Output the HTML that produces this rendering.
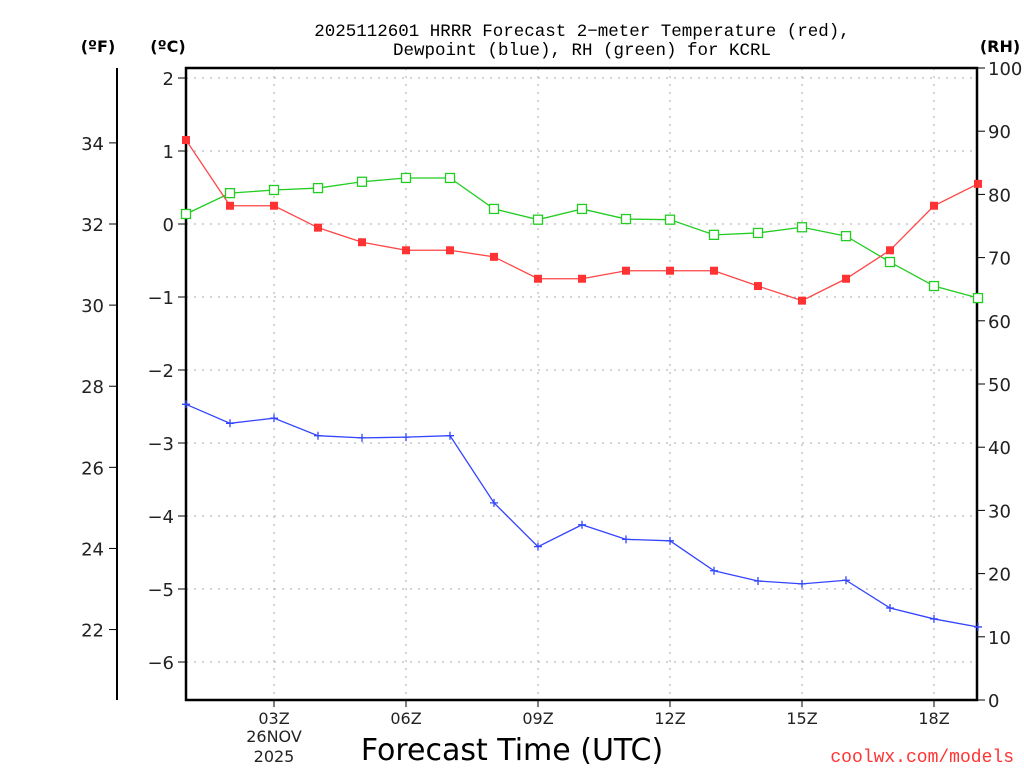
<!DOCTYPE html>
<html><head><meta charset="utf-8"><style>
body{margin:0;background:#fff;}
svg{display:block;font-family:"DejaVu Sans","Liberation Sans",sans-serif;}
</style></head><body>
<svg id="chart" width="1024" height="768" xmlns="http://www.w3.org/2000/svg">
<text x="582" y="36" text-anchor="middle" font-size="17.5" font-family="Liberation Mono, monospace">2025112601 HRRR Forecast 2−meter Temperature (red),</text>
<text x="582" y="55" text-anchor="middle" font-size="17.5" font-family="Liberation Mono, monospace">Dewpoint (blue), RH (green) for KCRL</text>
<text x="98" y="52" text-anchor="middle" font-size="16" font-weight="bold">(ºF)</text>
<text x="168" y="52" text-anchor="middle" font-size="16" font-weight="bold">(ºC)</text>
<text x="1000" y="52" text-anchor="middle" font-size="16" font-weight="bold">(RH)</text>
<g id="grid"></g>
<g id="axes"></g>
<g id="series"></g>
<text x="512" y="760" text-anchor="middle" font-size="30">Forecast Time (UTC)</text>
<text x="1014" y="762" text-anchor="end" font-size="18" font-family="Liberation Mono, monospace" fill="#ff3333">coolwx.com/models</text>
</svg>
<script>
const hours=[1,2,3,4,5,6,7,8,9,10,11,12,13,14,15,16,17,18,19];
const tempC=[1.15,0.25,0.25,-0.05,-0.25,-0.36,-0.36,-0.45,-0.75,-0.75,-0.64,-0.64,-0.64,-0.85,-1.05,-0.75,-0.36,0.25,0.55];
const dewC=[-2.47,-2.73,-2.66,-2.9,-2.93,-2.92,-2.9,-3.82,-4.42,-4.12,-4.32,-4.34,-4.75,-4.89,-4.93,-4.88,-5.26,-5.41,-5.52];
const rh=[76.9,80.2,80.7,81,82,82.6,82.6,77.7,76,77.7,76.1,76,73.6,73.9,74.8,73.4,69.3,65.5,63.6];
const cTicks=[2,1,0,-1,-2,-3,-4,-5,-6];
const fTicks=[34,32,30,28,26,24,22];
const rhTicks=[100,90,80,70,60,50,40,30,20,10,0];
const xTicks=[3,6,9,12,15,18];
const xTickLabels=["03Z","06Z","09Z","12Z","15Z","18Z"];
const L=186,R=977,T=68,B=700;
const NS="http://www.w3.org/2000/svg";
const X=h=>L+(h-1)*44;
const YC=c=>224-c*73;
const YF=f=>YC((f-32)*5/9);
const YR=r=>B-r*(B-T)/100;
function mk(p,tag,a){const e=document.createElementNS(NS,tag);for(const k in a)e.setAttribute(k,a[k]);p.appendChild(e);return e;}
const grid=document.getElementById('grid'),axes=document.getElementById('axes'),ser=document.getElementById('series');
cTicks.forEach(c=>{
 const g=mk(grid,'line',{x1:L,x2:R,y1:YC(c),y2:YC(c),stroke:'#aaa','stroke-dasharray':'2,6'});
 
 
 mk(axes,'line',{x1:L-8,x2:L,y1:YC(c),y2:YC(c),stroke:'#000'});
 const t=mk(axes,'text',{x:L-12,y:YC(c)+7,'text-anchor':'end','font-size':'18',fill:'#222'});
 t.textContent=c<0?'−'+(-c):String(c);
 
 
});
xTicks.forEach((h,i)=>{
 const g=mk(grid,'line',{x1:X(h),x2:X(h),y1:T,y2:B,stroke:'#aaa','stroke-dasharray':'2,6'});
 
 
 mk(axes,'line',{x1:X(h),x2:X(h),y1:B,y2:B+7,stroke:'#000'});
 const t=mk(axes,'text',{x:X(h),y:B+24,'text-anchor':'middle','font-size':'16',fill:'#222'});
 t.textContent=xTickLabels[i];
 
 
});
[["26NOV",742],["2025",762]].forEach(([s,y])=>{
 const t=mk(axes,'text',{x:X(3),y:y,'text-anchor':'middle','font-size':'16',fill:'#222'});
 t.textContent=s;
 
 
});
fTicks.forEach(f=>{
 mk(axes,'line',{x1:109,x2:117,y1:YF(f),y2:YF(f),stroke:'#000'});
 const t=mk(axes,'text',{x:104,y:YF(f)+7,'text-anchor':'end','font-size':'18',fill:'#222'});
 t.textContent=String(f);
 
 
});
rhTicks.forEach(r=>{
 mk(axes,'line',{x1:R,x2:R+8,y1:YR(r),y2:YR(r),stroke:'#000'});
 const t=mk(axes,'text',{x:R+11,y:YR(r)+7,'text-anchor':'start','font-size':'18',fill:'#222'});
 t.textContent=String(r);
 
 
});
const fl=mk(axes,'line',{x1:117,x2:117,y1:T,y2:B,stroke:'#000','stroke-width':2});


const fr=mk(axes,'rect',{x:L,y:T,width:R-L,height:B-T,fill:'none',stroke:'#000','stroke-width':2.5});


function line(vals,yf,col,name){
 const p=mk(ser,'polyline',{points:vals.map((v,i)=>X(hours[i])+','+yf(v)).join(' '),fill:'none',stroke:col,'stroke-width':1.3});
 
 
}
line(rh,YR,'#22cc22','rh-line');
line(tempC,YC,'#ff4444','temperature-line');
line(dewC,YC,'#3344ff','dewpoint-line');
rh.forEach((v,i)=>{const m=mk(ser,'rect',{x:X(hours[i])-4.5,y:YR(v)-4.5,width:9,height:9,fill:'#fff',stroke:'#22cc22','stroke-width':1.3});
 
 });
tempC.forEach((v,i)=>{const m=mk(ser,'rect',{x:X(hours[i])-4,y:YC(v)-4,width:8,height:8,fill:'#ff3333'});
 
 });
dewC.forEach((v,i)=>{const x=X(hours[i]),y=YC(v);const m=mk(ser,'path',{d:`M${x-4},${y}H${x+4}M${x},${y-4}V${y+4}`,stroke:'#3344ff','stroke-width':1.3});
 
 });
</script>
</body></html>
